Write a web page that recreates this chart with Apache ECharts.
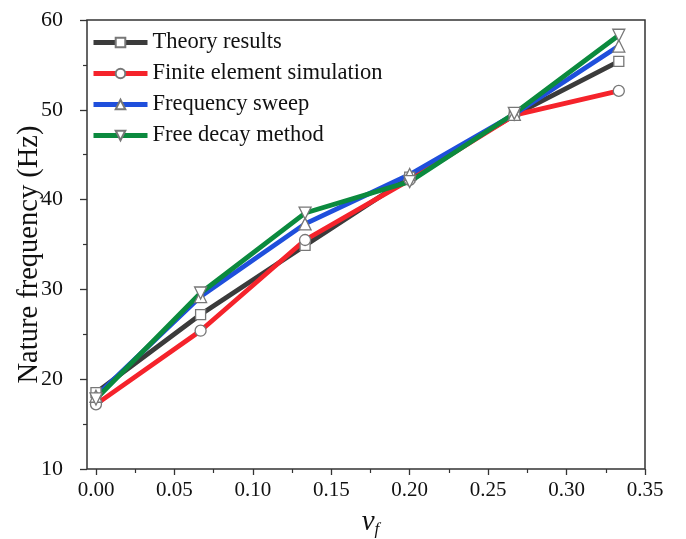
<!DOCTYPE html>
<html>
<head>
<meta charset="utf-8">
<script src="https://cdn.jsdelivr.net/npm/echarts@6/dist/echarts.min.js"></script>
<style>
html,body{margin:0;padding:0;background:#fff;}
#chart{width:686px;height:539px;}
</style>
</head>
<body>
<div id="chart"></div>
<script>
var vf = [0, 0.0667, 0.1333, 0.2, 0.2667, 0.3333];
var theory = [18.5, 27.2, 34.9, 42.5, 49.4, 55.4];
var finiteElement = [17.2, 25.4, 35.5, 42.2, 49.4, 52.1];
var freqSweep = [18.1, 29.2, 37.3, 42.8, 49.5, 57.1];
var freeDecay = [17.8, 29.6, 38.5, 42.0, 49.6, 58.3];
var seriesNames = ['Theory results', 'Finite element simulation', 'Frequency sweep', 'Free decay method'];
var xTicks = [0, 0.05, 0.1, 0.15, 0.2, 0.25, 0.3, 0.35];
var yTicks = [10, 20, 30, 40, 50, 60];

var FONT = 'Liberation Serif';
function pairs(ys){ return vf.map(function(x,i){ return [x, ys[i]]; }); }

var chart = echarts.init(document.getElementById('chart'), null, {renderer:'canvas'});

function mk(name, ys, color, symbol, size, rot){
  return {
    name: name, type: 'line', xAxisIndex: 0, yAxisIndex: 0,
    data: pairs(ys),
    symbol: symbol, symbolSize: size, symbolRotate: rot || 0,
    showAllSymbol: true,
    lineStyle: {color: color, width: 4.8},
    itemStyle: {color: '#ffffff', borderColor: '#777777', borderWidth: 1.3},
    emphasis: {disabled: true},
    z: 3
  };
}

chart.setOption({
  animation: false,
  backgroundColor: '#ffffff',
  grid: [
    {left: 87, top: 20, width: 558, height: 449, containLabel: false, outerBoundsMode: 'none',
     show: true, borderColor: '#333', borderWidth: 1.5, backgroundColor: 'transparent'},
    {left: 96, top: 20, width: 549, height: 449, containLabel: false, outerBoundsMode: 'none'}
  ],
  legend: {
    left: 86, top: 26, orient: 'vertical', itemGap: 8,
    itemWidth: 54, itemHeight: 12,
    lineStyle: {width: 5},
    textStyle: {fontFamily: FONT, fontSize: 22.5, color: '#111', padding: [0,0,0,0]},
    data: seriesNames
  },
  xAxis: [
    {type: 'value', gridIndex: 0, min: -0.005714, max: 0.35,
     axisLine: {show: false, onZero: false}, axisTick: {show: false}, axisLabel: {show: false}, splitLine: {show: false}},
    {type: 'value', gridIndex: 1, min: xTicks[0], max: xTicks[xTicks.length-1], interval: 0.05,
     axisLine: {show: false, onZero: false},
     axisTick: {show: true, inside: false, length: 6, lineStyle: {color: '#333', width: 1.3}},
     minorTick: {show: true, splitNumber: 2, length: 4, lineStyle: {color: '#333', width: 1.2}},
     axisLabel: {fontFamily: FONT, fontSize: 21, color: '#111', margin: 11,
                 formatter: function(v){ return v.toFixed(2); }},
     splitLine: {show: false},
     name: '{v|v}{f|f}', nameLocation: 'middle', nameGap: 38, nameMoveOverlap: false,
     nameTextStyle: {rich: {
        v: {fontFamily: FONT, fontStyle: 'italic', fontSize: 29, color: '#111'},
        f: {fontFamily: FONT, fontStyle: 'italic', fontSize: 17, color: '#111', padding: [14,0,0,0]}
     }}}
  ],
  yAxis: [
    {type: 'value', gridIndex: 0, min: yTicks[0], max: yTicks[yTicks.length-1], interval: 10,
     axisLine: {show: false, onZero: false},
     axisTick: {show: true, inside: false, length: 7, lineStyle: {color: '#333', width: 1.3}},
     minorTick: {show: true, splitNumber: 2, length: 4, lineStyle: {color: '#333', width: 1.2}},
     axisLabel: {fontFamily: FONT, fontSize: 22, color: '#111', margin: 24},
     splitLine: {show: false},
     name: 'Nature frequency (Hz)', nameLocation: 'middle', nameGap: 43, nameRotate: 90,
     nameMoveOverlap: false,
     nameTextStyle: {fontFamily: FONT, fontSize: 28.5, color: '#111', padding: [0, 20, 0, 0]}},
    {type: 'value', gridIndex: 1, min: 10, max: 60, show: false}
  ],
  series: [
    mk(seriesNames[0], theory, '#3b3b3b', 'rect', 10),
    mk(seriesNames[1], finiteElement, '#f5232b', 'circle', 11),
    mk(seriesNames[2], freqSweep, '#1f4fdc', 'triangle', 12),
    mk(seriesNames[3], freeDecay, '#0b8a3e', 'triangle', 12, 180)
  ]
});
</script>
</body>
</html>
